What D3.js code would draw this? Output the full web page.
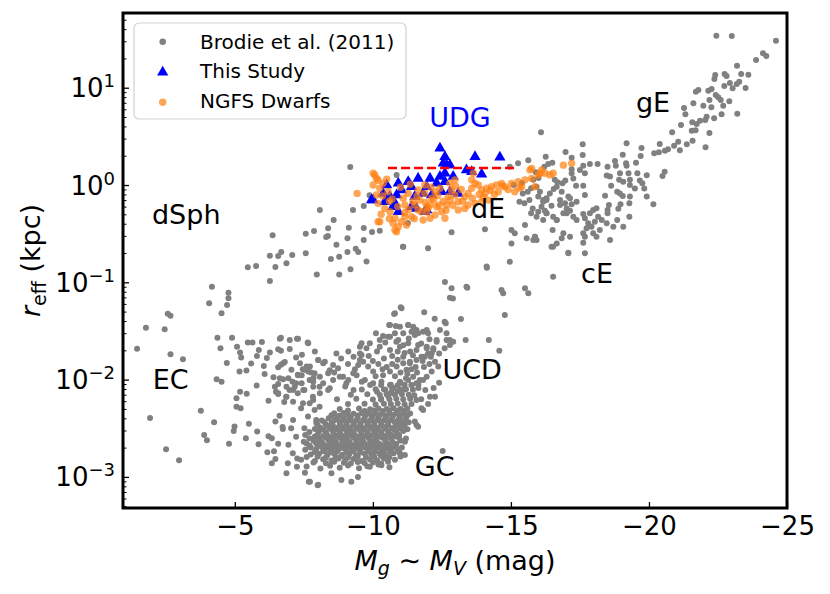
<!DOCTYPE html>
<html>
<head>
<meta charset="utf-8">
<script src="https://cdn.jsdelivr.net/npm/d3@7"></script>
<style>
  body { margin: 0; background: #fff; }
  svg { display: block; }
  text { font-family: "DejaVu Sans", sans-serif; }
</style>
</head>
<body>
<svg></svg>
<script>
// Brodie et al. (2011) compilation, [M_V, r_eff in kpc]
var brodieGiants = [
  [-22.44,34.3],[-23.0,34.0],[-24.6,30.4],[-24.13,22.6],[-24.25,21.2],[-23.88,19.3],[-23.19,16.8],[-22.74,13.8],
  [-22.81,13.2],[-22.40,13.5],[-22.37,12.3],[-23.34,13.8],[-23.60,13.6],[-22.93,11.2],[-23.03,9.86],[-23.18,10.9],
  [-23.27,11.5],[-23.50,9.93],[-22.73,10.4],[-22.27,9.7],[-22.15,9.3],[-21.79,9.47],[-21.70,9.1],[-22.42,8.4],
  [-22.51,7.97],[-22.60,7.48],[-22.19,7.48],[-22.26,6.29],[-22.69,6.53],[-22.91,7.25],[-21.97,6.53],[-21.61,6.92],
  [-21.27,6.18],[-21.32,5.33],[-22.63,5.33],[-23.20,5.4],[-22.36,4.85],[-22.09,5.04],[-22.04,4.66],[-21.85,4.58],
  [-21.73,4.24],[-21.57,4.41],[-21.16,4.14],[-21.55,3.61],[-21.69,3.65],[-20.84,3.48],[-22.19,3.42],[-21.58,2.85],
  [-21.37,2.62],[-21.06,2.79],[-20.91,2.53],[-22.05,2.44],[-21.12,2.27],[-20.69,2.33],[-20.58,2.25],[-20.39,2.64],
  [-20.19,2.12],[-20.36,2.17],[-19.73,2.4],[-19.70,1.99],[-19.19,2.69],[-19.05,2.05],[-20.57,1.37],[-20.49,1.24],
  [-19.53,1.69],[-19.17,1.67],[-19.19,1.58],[-18.77,1.77],[-18.80,1.58],[-18.50,1.54],[-19.26,1.32],[-19.58,1.32],
  [-18.95,1.32],[-19.07,1.08],[-18.47,1.25],[-18.59,1.22],[-19.92,1.26],[-19.67,1.11],[-19.76,1.04],[-19.31,1.13],
  [-19.31,1.0],[-19.49,0.92],[-19.83,0.92],[-19.92,0.76],[-20.16,0.634],[-18.63,0.98],[-18.92,1.13],[-18.85,0.853],
  [-18.95,0.82],[-18.41,0.776],[-19.31,0.76],[-18.97,0.634],[-18.89,0.57],[-19.29,0.648],[-19.29,0.472],[-18.55,0.623],
  [-18.50,0.553],[-18.85,0.437],[-19.07,0.373],[-18.14,1.64],[-17.86,1.64],[-17.60,2.03],[-17.60,2.62],[-17.20,1.91],
  [-16.98,2.18],[-16.09,3.48],[-16.26,1.95],[-16.50,1.69],[-16.35,1.64],[-16.21,1.54],[-17.20,1.45],[-17.62,1.58],
  [-17.36,0.98],[-17.62,0.98],[-16.97,1.11],[-16.87,1.04],[-16.69,1.07],[-16.55,0.91],[-16.41,0.82],[-16.29,0.73],
  [-16.17,0.673],[-16.47,0.612],[-17.14,0.73],[-17.38,0.673],[-17.20,0.634],[-16.78,0.623],[-17.68,0.79],[-16.29,0.512],
  [-16.23,0.545],[-16.53,0.472],[-16.66,0.437],[-17.02,0.512],[-17.14,0.545],[-17.26,0.472],[-17.38,0.437],[-17.62,0.504],
  [-17.68,0.455],[-17.86,0.512],[-17.98,0.553],[-18.10,0.576],[-18.16,0.472],[-18.29,0.437],[-18.04,0.42],[-17.80,0.404],
  [-17.92,0.373],[-17.74,0.359],[-17.62,0.319],[-17.98,0.319],[-17.62,0.255],[-17.68,0.294],[-17.08,0.201],[-18.47,0.404],
  [-18.71,0.373],[-18.50,0.512],[-19.05,0.771],[-18.59,0.272],[-18.10,0.294],[-18.22,0.345],[-16.51,0.345],[-16.90,0.319],
  [-17.14,0.294],[-16.84,0.283],[-15.81,0.272],[-15.87,0.294],[-16.47,0.232],[-15.99,0.532],[-15.93,0.472],[-16.17,0.437]
];

var brodieDwarfs = [
  [-9.18,1.53],[-8.08,0.553],[-9.28,0.553],[-9.67,0.608],[-9.88,0.784],[-8.58,0.437],[-7.57,0.316],[-7.87,0.337],
  [-8.38,0.359],[-8.31,0.292],[-8.37,0.30],[-9.13,0.364],[-9.67,0.361],[-9.97,0.329],[-10.25,0.339],[-9.08,0.283],
  [-9.67,0.272],[-8.68,0.243],[-6.37,0.304],[-7.57,0.199],[-7.08,0.191],[-6.68,0.205],[-6.57,0.186],[-6.27,0.188],
  [-6.87,0.157],[-6.47,0.144],[-5.77,0.147],[-5.47,0.143],[-6.27,0.103],[-7.97,0.12],[-8.48,0.174],[-8.78,0.183],
  [-9.08,0.205],[-9.38,0.221],[-9.47,0.205],[-9.77,0.164],[-9.19,0.136],[-8.78,0.12],[-4.17,0.090],[-4.07,0.061],
  [-4.52,0.048],[-4.77,0.078],[-4.77,0.0685],[-4.72,0.0585],[-2.57,0.0475],[-2.67,0.0454],[-1.78,0.0341],[-2.46,0.0329],
  [-10.86,1.27],[-11.09,0.232],[-11.27,0.407],
  [-15.73,0.925],[-15.61,0.853],[-15.43,0.82],[-15.31,0.673],[-15.49,0.648],[-15.67,0.70],[-15.79,0.575],[-15.73,0.512],
  [-15.81,1.13],[-15.93,0.96],[-16.05,0.853],[-15.99,0.76],[-16.17,0.70],[-16.11,0.598],[-16.29,0.70],[-16.29,0.512],
  [-16.59,1.13],[-16.66,0.96],[-16.84,0.853],[-16.78,0.70],[-16.96,0.648],[-17.08,0.76],[-17.02,0.575],[-16.90,0.512],
  [-16.66,0.437],[-17.26,1.17],[-17.20,1.32],[-17.50,1.43],[-17.68,1.32],[-15.02,0.345],[-15.14,0.319],[-15.57,0.283],
  [-15.87,0.294],[-15.93,0.272],[-15.51,0.388],[-16.53,0.232],[-16.66,0.25],[-17.08,0.199],[-17.68,0.199],[-14.96,0.163],
  [-14.12,0.145],[-12.61,0.101],[-12.85,0.0867],[-13.39,0.090],[-12.79,0.0695],[-14.66,0.0834],[-14.72,0.077],[-15.51,0.0867],
  [-15.63,0.077],[-14.06,0.351],[-12.85,0.327],[-12.0,0.224],[-11.10,0.232],[-14.13,0.141],[-15.02,0.25],[-16.53,0.114],
  [-15.26,1.67],[-15.63,1.8],[-14.96,1.54],[-15.9,1.35],[-16.0,1.18],[-15.4,1.05],[-15.1,1.0],[-12.90,0.068],[-13.42,0.0879]
];

var brodieUCD = [
  [-12.79,0.0255],[-12.91,0.0245],[-12.67,0.0299],[-12.43,0.0323],[-12.0,0.0299],[-11.82,0.031],[-11.58,0.0323],[-11.52,0.0287],
  [-11.64,0.0227],[-11.95,0.021],[-12.19,0.021],[-12.31,0.0255],[-12.13,0.0186],[-11.88,0.0172],[-12.25,0.0153],[-12.37,0.0136],
  [-12.13,0.0121],[-11.95,0.0107],[-11.70,0.0099],[-11.46,0.0107],[-11.22,0.0126],[-11.34,0.0147],[-11.10,0.0172],[-12.07,0.00667],
  [-12.25,0.00667],[-11.76,0.00507],[-11.52,0.0037],[-11.64,0.00328],[-11.22,0.00417],[-11.16,0.0023],[-11.16,0.00168],[-12.53,0.00185],
  [-10.77,0.0472],[-11.01,0.0553],[-10.59,0.0364],[-10.83,0.0355],[-11.28,0.0364],
  [-10.11,0.0299],[-10.37,0.028],[-10.62,0.0276],[-10.92,0.0255],[-11.10,0.0299],[-11.40,0.031],[-11.64,0.0299],[-11.95,0.0323],
  [-9.89,0.0236],[-10.25,0.0218],[-10.62,0.0201],[-10.98,0.0218],[-11.28,0.0236],[-11.58,0.0201],[-11.95,0.0218],[-12.31,0.0245],
  [-12.67,0.0255],[-12.79,0.0227],
  [-9.53,0.0218],[-9.59,0.0179],[-9.65,0.0153],[-9.83,0.0136],[-10.01,0.0121],[-10.37,0.0111],[-10.62,0.0121],[-10.86,0.0136],
  [-11.10,0.0147],[-11.34,0.0153],[-11.58,0.0159],[-11.76,0.0172],[-12.0,0.0186],[-12.19,0.0201],
  [-9.11,0.0194],[-8.56,0.0141],[-8.20,0.0147],[-8.02,0.0159],[-7.72,0.0136],[-7.54,0.0126],[-7.42,0.0111],
  [-8.80,0.0107],[-9.11,0.0099],[-9.41,0.0111],[-9.71,0.0099],[-10.01,0.00916],[-10.31,0.0095],[-10.62,0.0088],[-10.98,0.0095],
  [-11.28,0.0099],[-11.58,0.00916],[-11.82,0.0099],
  [-8.20,0.00916],[-8.44,0.00813],[-7.84,0.00845],[-7.48,0.0078],[-7.17,0.00845],
  [-11.58,0.00617],[-11.82,0.00488],[-11.58,0.00341],
  [-11.86,0.0492],[-12.24,0.0423],[-12.6,0.0394],[-12.64,0.038],[-13.19,0.042],[-13.36,0.0255],[-14.2,0.0255],[-14.58,0.0198],
  [-14.78,0.0461],
  [-9.59,0.0236],[-9.77,0.021],[-9.53,0.0186],[-10.25,0.0255],[-10.55,0.0276],[-10.80,0.0299],[-10.98,0.035],[-11.04,0.054],
  [-10.80,0.048],[-10.62,0.0364],[-11.28,0.0364],[-11.46,0.035],[-9.53,0.0159],[-9.47,0.0141],[-9.29,0.0116],
  [-10.4,0.0165],[-10.7,0.0175],[-10.9,0.016],[-11.0,0.0118],[-11.2,0.0103],[-10.5,0.0135],[-10.8,0.0108],[-10.2,0.0145],
  [-11.4,0.0128],[-11.6,0.0118],[-11.85,0.0135],[-12.05,0.0145],[-10.9,0.0195],[-11.15,0.0188],[-11.45,0.0178],[-11.75,0.0235],
  [-12.05,0.026],[-11.3,0.0265],[-10.45,0.024],[-10.15,0.0195],[-9.85,0.0175],[-10.0,0.0155],[-11.9,0.0078],[-11.65,0.0082],
  [-11.4,0.0088],[-11.15,0.0079],[-10.9,0.0076],[-10.65,0.0073],[-10.4,0.0079],[-10.15,0.0075],[-12.0,0.0056],[-11.75,0.0063],
  [-11.5,0.0069],[-12.2,0.0082],[-12.4,0.0093],
  [-10.3,0.0062],[-10.55,0.0068],[-10.75,0.0082],[-11.0,0.0093],[-11.25,0.0115],[-11.55,0.0135],[-11.8,0.0155],[-12.1,0.0172],
  [-12.4,0.0185],[-12.6,0.021],[-11.35,0.0195],[-11.1,0.0225],[-10.85,0.0245],[-10.7,0.0145],[-10.35,0.0128],[-10.1,0.0108],
  [-9.9,0.0088],[-9.6,0.0095],[-9.35,0.0128],[-9.1,0.0145],[-8.85,0.0165],[-9.3,0.0172],[-8.6,0.0118],[-9.0,0.0085],[-9.3,0.0078]
];

var brodieGCouter = [
  [-1.46,0.0208],[-2.67,0.0182],[-3.12,0.0162],[-1.93,0.00403],[-2.51,0.00192],[-2.98,0.00148],[-3.77,0.00479],[-4.25,0.00364],
  [-3.89,0.00270],[-3.99,0.00238],[-4.37,0.0270],[-4.90,0.0270],[-4.48,0.0210],[-4.71,0.0148],[-4.34,0.0101],[-4.52,0.0095],
  [-5.08,0.0218],[-5.19,0.0190],[-5.23,0.0169],[-5.47,0.0240],[-5.17,0.0121],[-5.42,0.0124],[-5.79,0.0087],[-5.19,0.0075],
  [-5.43,0.00716],[-5.06,0.00645],[-5.06,0.00525],[-5.21,0.00507],[-4.99,0.0033],[-4.96,0.00296],[-5.51,0.00352],[-5.40,0.0025],
  [-4.79,0.00219],[-5.81,0.00293],[-5.86,0.00217],[-5.64,0.0240],[-5.98,0.0243],[-5.87,0.0201],[-5.59,0.0146],[-5.80,0.0175],
  [-6.05,0.0138],[-6.08,0.0114],[-6.27,0.0190],[-6.16,0.0167],[-6.40,0.0106],[-6.67,0.0270],[-6.57,0.0205],[-6.67,0.0198],
  [-6.99,0.0206],[-7.25,0.0263],[-7.64,0.024],[-7.22,0.0169],[-7.43,0.0180],[-6.81,0.0152],[-6.67,0.0142],[-6.57,0.0134],
  [-6.94,0.0103],[-6.75,0.0101],[-6.57,0.009],[-7.09,0.0095],[-7.28,0.0112],[-7.56,0.0126],[-7.76,0.0118],[-7.85,0.0104],
  [-8.02,0.0159],[-7.22,0.0092],[-6.22,0.00607],[-6.49,0.0075],[-6.57,0.0071],[-6.79,0.0059],[-6.47,0.0037],[-6.73,0.00326],
  [-6.74,0.0031],[-6.94,0.00214],[-6.22,0.00261],[-6.34,0.00249],[-6.57,0.00219],[-6.18,0.00179],[-6.42,0.00184],[-6.47,0.00153],
  [-6.34,0.00138],[-6.92,0.00138],[-6.87,0.00109],[-7.25,0.00127],[-7.54,0.0011],[-7.68,0.00089],[-8.00,0.00082],[-7.10,0.00175],
  [-7.26,0.00155],[-6.62,0.00426],[-7.11,0.00385],
  [-7.40,0.00507],[-7.71,0.0057],[-7.89,0.00488],[-8.07,0.00527],[-7.65,0.00417],[-7.95,0.00385],[-7.52,0.00316],[-7.22,0.00259],
  [-7.04,0.00316],[-7.46,0.0128],[-7.89,0.0116],[-7.71,0.0099],[-8.07,0.00845],[-7.52,0.0078],[-7.28,0.00723],[-7.83,0.00667],
  [-6.98,0.0078],[-6.86,0.00667],
  [-8.26,0.0153],[-8.38,0.0116],[-8.08,0.0107],[-8.56,0.0099],[-8.92,0.0107],[-8.74,0.0131],[-9.04,0.00916],[-8.38,0.0078],
  [-8.08,0.00723],[-7.84,0.0095],[-7.60,0.0136],[-7.36,0.0147],[-7.66,0.0121],[-7.29,0.0111],[-7.05,0.0126],[-6.75,0.0147],
  [-6.63,0.0103],[-6.87,0.00845],[-7.42,0.00916],[-7.11,0.0078],[-7.84,0.00617],[-7.47,0.0057],[-7.11,0.00593],[-6.87,0.00667],
  [-6.57,0.00723],[-6.45,0.00845],
  [-6.63,0.0263],[-6.99,0.0255],[-7.29,0.0263],[-7.66,0.0236],[-7.90,0.0194],[-8.68,0.0186],[-8.44,0.0125],
  [-7.72,0.00089],[-8.02,0.00083],[-8.50,0.00109],[-8.86,0.00093],[-9.22,0.00089],[-9.46,0.001],[-9.89,0.00127],[-10.31,0.00132],
  [-10.98,0.00175]
];

var brodieGCcore = [
  [-7.6,0.00128],[-8.1,0.00122],[-8.45,0.0013],[-8.8,0.00124],[-9.1,0.00131],[-9.5,0.00123],[-9.8,0.00129],[-10.2,0.00134],[-10.6,0.00126],
  [-7.85,0.00141],[-8.3,0.00138],[-8.6,0.00143],[-8.95,0.0014],[-9.2,0.00137],[-9.45,0.00142],[-9.7,0.00139],[-10.0,0.00141],
  [-10.3,0.00137],[-10.55,0.00143],
  [-7.4,0.0015],[-7.9,0.00146],[-8.2,0.00152],[-8.5,0.00147],[-8.75,0.00155],[-9.0,0.00149],[-9.3,0.00153],[-9.6,0.00146],
  [-9.9,0.00151],[-10.15,0.00148],[-10.4,0.00155],[-10.8,0.0015],
  [-7.6,0.0016],[-8.0,0.00162],[-8.3,0.00158],[-8.65,0.00161],[-8.85,0.00163],[-9.1,0.00158],[-9.45,0.00162],[-9.75,0.00159],
  [-10.05,0.00161],[-10.3,0.00164],[-10.6,0.00159],[-11.0,0.00162],
  [-7.75,0.0017],[-8.05,0.00173],[-8.35,0.00168],[-8.6,0.00174],[-8.9,0.00169],[-9.15,0.00172],[-9.4,0.00167],[-9.7,0.00174],
  [-9.95,0.0017],[-10.25,0.00173],[-10.5,0.00168],[-10.75,0.00175],
  [-7.9,0.0018],[-8.2,0.00183],[-8.45,0.00178],[-8.7,0.00182],[-9.05,0.00179],[-9.3,0.00184],[-9.55,0.00178],[-9.85,0.00181],
  [-10.1,0.00183],[-10.4,0.00178],[-10.65,0.00182],[-10.95,0.0018],
  [-7.55,0.0019],[-7.95,0.00193],[-8.25,0.00188],[-8.5,0.00195],[-8.75,0.0019],[-9.0,0.00194],[-9.25,0.00188],[-9.5,0.00192],
  [-9.8,0.00196],[-10.05,0.00189],[-10.3,0.00193],[-10.6,0.00191],[-10.9,0.00194],
  [-7.75,0.002],[-8.15,0.00203],[-8.4,0.00198],[-8.65,0.00202],[-8.9,0.00199],[-9.15,0.00203],[-9.4,0.00198],[-9.65,0.00202],
  [-9.95,0.002],[-10.2,0.00203],[-10.45,0.00198],[-10.75,0.00202],[-11.05,0.002],
  [-7.7,0.0021],[-8.05,0.00214],[-8.3,0.00208],[-8.55,0.00215],[-8.8,0.0021],[-9.05,0.00213],[-9.3,0.00209],[-9.55,0.00216],
  [-9.8,0.00211],[-10.1,0.00214],[-10.35,0.00208],[-10.6,0.00213],
  [-7.6,0.0022],[-7.95,0.00222],[-8.2,0.00218],[-8.45,0.00223],[-8.7,0.00219],[-8.95,0.00222],[-9.2,0.00218],[-9.45,0.00223],
  [-9.7,0.0022],[-9.95,0.00223],[-10.25,0.00218],[-10.5,0.00222],[-10.85,0.00219],
  [-7.5,0.0023],[-7.85,0.00235],[-8.15,0.00229],[-8.4,0.00236],[-8.65,0.0023],[-8.9,0.00234],[-9.15,0.00228],[-9.4,0.00235],
  [-9.65,0.00231],[-9.9,0.00236],[-10.15,0.00229],[-10.45,0.00234],[-10.7,0.0023],[-11.0,0.00236],
  [-7.7,0.0025],[-8.05,0.00247],[-8.3,0.00252],[-8.55,0.00248],[-8.8,0.00253],[-9.05,0.00249],[-9.3,0.00252],[-9.6,0.00247],
  [-9.85,0.00251],[-10.1,0.00248],[-10.35,0.00253],[-10.65,0.00249],[-10.95,0.00252],[-11.2,0.00248],
  [-7.9,0.0026],[-8.2,0.00263],[-8.45,0.00257],[-8.7,0.00264],[-8.95,0.0026],[-9.2,0.00265],[-9.45,0.00258],[-9.7,0.00262],
  [-9.95,0.00266],[-10.2,0.00259],[-10.5,0.00263],[-10.8,0.0026],
  [-7.55,0.0027],[-8.0,0.00273],[-8.35,0.00268],[-8.6,0.00272],[-8.85,0.00269],[-9.1,0.00274],[-9.35,0.00268],[-9.6,0.00272],
  [-9.85,0.00269],[-10.1,0.00273],[-10.35,0.00268],[-10.65,0.00272],[-10.95,0.00269],
  [-7.7,0.0029],[-8.05,0.00294],[-8.3,0.00287],[-8.55,0.00295],[-8.8,0.0029],[-9.05,0.00293],[-9.3,0.00288],[-9.55,0.00296],
  [-9.8,0.00291],[-10.05,0.00294],[-10.3,0.00288],[-10.55,0.00293],[-10.85,0.0029],[-11.1,0.00296],
  [-7.9,0.0031],[-8.2,0.00307],[-8.45,0.00312],[-8.7,0.00308],[-8.95,0.00313],[-9.2,0.00307],[-9.45,0.00312],[-9.7,0.00308],
  [-9.95,0.00313],[-10.2,0.00307],[-10.45,0.00312],[-10.75,0.00308],[-11.0,0.00313],[-11.25,0.00308],
  [-8.1,0.0032],[-8.4,0.00325],[-8.65,0.00318],[-8.9,0.00326],[-9.15,0.00321],[-9.4,0.00324],[-9.65,0.00317],[-9.9,0.00325],
  [-10.15,0.0032],[-10.4,0.00326],[-10.7,0.00319],[-10.95,0.00324],
  [-8.0,0.0034],[-8.3,0.00343],[-8.55,0.00338],[-8.8,0.00342],[-9.05,0.00339],[-9.3,0.00343],[-9.55,0.00338],[-9.8,0.00342],
  [-10.05,0.00339],[-10.3,0.00343],[-10.55,0.00338],[-10.85,0.00342],[-11.15,0.00339],
  [-7.95,0.0036],[-8.25,0.00364],[-8.5,0.00357],[-8.8,0.00365],[-9.05,0.0036],[-9.3,0.00363],[-9.55,0.00356],[-9.8,0.00364],
  [-10.05,0.00361],[-10.3,0.00366],[-10.55,0.00358],[-10.8,0.00363],[-11.05,0.0036],[-11.3,0.00365],
  [-8.15,0.0038],[-8.6,0.00383],[-8.9,0.00378],[-9.15,0.00382],[-9.4,0.00379],[-9.65,0.00383],[-9.9,0.00378],[-10.15,0.00382],
  [-10.4,0.00379],[-10.65,0.00383],[-10.9,0.00378],[-11.15,0.00382],
  [-8.4,0.004],[-8.7,0.00405],[-8.95,0.00397],[-9.2,0.00406],[-9.45,0.004],[-9.7,0.00404],[-9.95,0.00398],[-10.2,0.00405],
  [-10.45,0.00401],[-10.7,0.00406],[-10.95,0.00399],[-11.2,0.00404],
  [-8.5,0.0043],[-8.8,0.00427],[-9.1,0.00432],[-9.45,0.00428],[-9.75,0.00433],[-10.0,0.00427],[-10.25,0.00432],[-10.5,0.00428],
  [-10.75,0.00433],[-11.0,0.00427],[-11.25,0.00432],
  [-8.6,0.0045],[-8.95,0.00455],[-9.3,0.00447],[-9.6,0.00454],[-9.85,0.0045],[-10.1,0.00456],[-10.35,0.00448],[-10.6,0.00453],
  [-10.85,0.0045],[-11.1,0.00455],[-11.35,0.00449],
  [-9.1,0.0048],[-9.7,0.00476],[-10.05,0.00482],[-10.35,0.00477],[-10.6,0.00483],[-10.9,0.00478],[-11.15,0.00482],
  [-8.8,0.005],[-9.5,0.00506],[-9.9,0.00497],[-10.2,0.00505],[-10.5,0.005],[-10.75,0.00507],[-11.0,0.00498],[-11.25,0.00504],
  [-9.1,0.0056],[-9.7,0.00566],[-10.1,0.00555],[-10.4,0.00564],[-10.65,0.0056],[-10.9,0.00567],[-11.15,0.00557],[-11.4,0.00563],
  [-8.7,0.0063],[-9.4,0.00636],[-10.0,0.00626],[-10.3,0.00635],[-10.6,0.0063],[-10.85,0.00637],[-11.1,0.00627],[-11.35,0.00634],
  [-9.2,0.007],[-9.8,0.00707],[-10.25,0.00695],[-10.5,0.00706],[-10.8,0.007],[-11.05,0.00708],[-11.3,0.00697],
  [-9.6,0.0079],[-10.1,0.00797],[-10.45,0.00785],[-10.7,0.00796],[-11.0,0.0079],[-11.2,0.00798],[-11.45,0.00787],
  [-10.3,0.0088],[-10.65,0.00887],[-10.9,0.00876],[-11.15,0.00886],[-11.4,0.0088],[-11.65,0.00888]
];

// this study (triangles) and NGFS dwarfs
var thisStudy = [
  [-12.43,2.38],[-12.61,1.95],[-13.70,1.95],[-14.60,1.93],[-12.67,1.61],[-12.61,1.32],[-13.39,1.43],[-13.58,1.37],
  [-13.94,1.29],[-12.91,1.22],[-12.43,1.22],[-12.07,1.17],[-11.64,1.17],[-11.28,1.08],[-10.92,1.04],[-10.50,1.0],
  [-11.95,0.96],[-11.40,0.96],[-11.04,0.889],[-10.86,0.79],[-10.37,0.82],[-10.62,0.76],[-9.95,0.70],[-10.43,0.673],
  [-11.52,0.76],[-11.82,0.82],[-12.13,0.79],[-12.49,0.853],[-12.79,0.853],[-13.09,0.82],[-10.80,0.648],[-11.40,0.598],
  [-11.88,0.532],[-10.92,0.532],[-12.61,1.08],[-12.31,1.04],[-12.55,1.67],[-12.79,1.61],[-11.95,0.553],[-11.58,0.575],
  [-10.01,0.70],[-10.73,0.598]
];

var ngfsDwarfs = [
  [-10.07,1.27],[-10.19,1.12],[-10.01,1.0],[-10.25,0.925],[-10.37,1.04],[-10.55,0.853],[-10.13,0.79],[-10.19,0.648],
  [-10.43,0.575],[-10.62,0.532],[-10.25,0.42],[-10.73,0.404],[-10.80,0.455],[-10.92,0.373],[-10.86,0.331],[-11.04,0.42],
  [-11.22,0.388],[-11.40,0.472],[-11.16,0.623],[-11.10,0.73],[-11.28,0.82],[-11.64,0.889],[-11.70,0.70],[-11.76,0.532],
  [-11.82,0.437],[-11.95,0.532],[-12.07,0.623],[-12.13,0.73],[-12.25,0.853],[-12.43,0.925],[-12.31,0.598],[-12.49,0.532],
  [-12.67,0.623],[-12.73,0.76],[-12.85,0.889],[-12.97,0.79],[-13.09,0.673],[-13.33,0.76],[-13.45,0.82],[-13.58,0.925],
  [-13.70,1.04],[-13.82,1.0],[-13.94,0.889],[-14.12,0.925],[-14.30,0.96],[-14.48,1.0],[-14.66,1.04],[-14.78,0.96],
  [-15.02,1.04],[-15.26,1.08],[-15.51,1.13],[-15.75,1.17],[-15.99,1.27],[-16.11,1.43],[-15.75,1.48],[-16.23,1.32],
  [-16.41,1.27],[-15.87,0.96],[-15.39,0.96],[-15.14,0.853],[-14.54,0.853],[-14.06,0.82],[-13.58,1.13],[-13.64,1.32],
  [-12.97,1.13],[-12.79,1.04],[-11.88,0.82],[-11.52,0.623],[-11.64,0.553],[-12.25,0.492],[-12.07,0.455],[-12.61,0.455],
  [-11.88,1.0],[-9.43,0.82],[-10.01,1.32],[-10.13,1.17],[-10.80,0.345],[-10.19,0.42],[-11.16,0.472],[-15.69,1.43],
  [-16.05,1.32],[-16.53,1.32],[-16.90,1.6],[-17.20,1.67],[-13.45,0.623],[-13.70,0.648],[-13.94,0.673],[-14.18,0.70],
  [-13.33,0.575],[-13.09,0.553],[-11.45,0.68],[-11.9,0.66],[-12.2,0.7],[-12.55,0.68],[-12.0,0.58],[-11.6,0.77],
  [-12.35,0.78],[-11.3,0.56],[-10.6,0.68],[-10.9,0.6],[-12.9,0.62],[-13.2,0.9],[-11.0,0.95],[-10.5,1.15],
  [-14.0,0.75],[-14.4,0.8],[-14.9,0.9],[-15.3,0.93],[-13.0,0.97],[-12.65,0.55],
  [-10.35,0.77],[-10.7,0.72],[-11.15,0.52],[-11.5,0.45],[-11.95,0.6],[-12.4,0.62],[-12.1,0.95],[-11.35,1.02],
  [-10.3,0.5],[-10.6,0.45],[-12.8,0.7],[-13.25,0.68],[-13.6,0.73],[-13.85,0.8],[-14.25,0.88],[-14.7,0.98]
];

// UDG size limit (dashed line)
var udgLimitMag = [-10.55, -15.26];
var udgLimitReff = 1.5;

// region names and where they sit (data coords, text start / baseline)
var regionNames = ["dSph", "EC", "UDG", "gE", "dE", "cE", "UCD", "GC"];
var regionMag = [-2.0, -2.03, -12.04, -19.53, -13.55, -17.54, -12.52, -11.52];
var regionReff = [0.398, 0.00794, 3.97, 5.66, 0.455, 0.0975, 0.01007, 0.00103];

var xTicks = [-5, -10, -15, -20, -25];
var yExponents = [-3, -2, -1, 0, 1];

var legendLabels = ["Brodie et al. (2011)", "This Study", "NGFS Dwarfs"];

window.onload = function() {
  var svg = d3.select("svg")
    .attr("width", 830)
    .attr("height", 594);

  var x = d3.scaleLinear().domain([-0.95, -25.0]).range([123, 787]);
  var y = d3.scaleLog().domain([4.79e-4, 58.6]).range([508, 13]);

  var grey = "#808080", orange = "#ff7f0e", blue = "#0000ff";

  // bottom axis, ticks pointing in
  var xAxis = svg.append("g")
    .attr("transform", "translate(0,508)")
    .call(d3.axisBottom(x).tickValues(xTicks).tickSize(-6).tickPadding(9)
      .tickFormat(function(d) { return "\u2212" + Math.abs(d); }));
  xAxis.select(".domain").remove();
  xAxis.selectAll("line").attr("stroke", "#000").attr("stroke-width", 1.3);
  xAxis.selectAll("text")
    .attr("font-size", 26)
    .attr("font-family", "DejaVu Sans")
    .attr("fill", "#000");

  // left axis: major + minor ticks
  var yMajor = yExponents.map(function(e) { return Math.pow(10, e); });
  var yMinor = [];
  for (var e = -4; e <= 1; e++) {
    for (var m = 2; m <= 9; m++) {
      var v = m * Math.pow(10, e);
      if (v > y.domain()[0] && v < y.domain()[1]) yMinor.push(v);
    }
  }
  var yAxis = svg.append("g")
    .attr("transform", "translate(123,0)")
    .call(d3.axisLeft(y).tickValues(yMajor).tickSize(-6).tickFormat(""));
  yAxis.select(".domain").remove();
  yAxis.selectAll("line").attr("stroke", "#000").attr("stroke-width", 1.3);

  var yMinorAxis = svg.append("g")
    .attr("transform", "translate(123,0)")
    .call(d3.axisLeft(y).tickValues(yMinor).tickSize(-3.5).tickFormat(""));
  yMinorAxis.select(".domain").remove();
  yMinorAxis.selectAll("line").attr("stroke", "#000").attr("stroke-width", 1);

  // y tick labels as 10^n
  var yLab = svg.append("g").selectAll("text")
    .data(yExponents).enter()
    .append("text")
    .attr("x", 115)
    .attr("y", function(d) { return y(Math.pow(10, d)) + 9.5; })
    .attr("text-anchor", "end")
    .attr("font-size", 26)
    .attr("fill", "#000");
  yLab.append("tspan").text("10");
  yLab.append("tspan")
    .attr("dy", -10)
    .attr("font-size", 18)
    .text(function(d) { return d < 0 ? "\u2212" + Math.abs(d) : String(d); });

  // Brodie et al. points
  var brodie = brodieGCcore.concat(brodieGCouter, brodieUCD, brodieDwarfs, brodieGiants);
  svg.append("g").selectAll("circle")
    .data(brodie).enter()
    .append("circle")
    .attr("cx", function(d) { return x(d[0]); })
    .attr("cy", function(d) { return y(d[1]); })
    .attr("r", 3)
    .attr("fill", grey);

  // this study
  var tri = d3.symbol().type(d3.symbolTriangle).size(55);
  svg.append("g").selectAll("path")
    .data(thisStudy).enter()
    .append("path")
    .attr("d", tri)
    .attr("transform", function(d) { return "translate(" + x(d[0]) + "," + y(d[1]) + ")"; })
    .attr("fill", blue);

  // NGFS dwarfs, semi transparent
  svg.append("g").selectAll("circle")
    .data(ngfsDwarfs).enter()
    .append("circle")
    .attr("cx", function(d) { return x(d[0]); })
    .attr("cy", function(d) { return y(d[1]); })
    .attr("r", 3.7)
    .attr("fill", orange)
    .attr("fill-opacity", 0.7);

  // UDG limit
  svg.append("line")
    .attr("x1", x(udgLimitMag[0]))
    .attr("x2", x(udgLimitMag[1]))
    .attr("y1", y(udgLimitReff))
    .attr("y2", y(udgLimitReff))
    .attr("stroke", "red")
    .attr("stroke-width", 2.5)
    .attr("stroke-dasharray", "9,4");

  // region labels
  svg.append("g").selectAll("text")
    .data(regionNames).enter()
    .append("text")
    .attr("x", function(d, i) { return x(regionMag[i]); })
    .attr("y", function(d, i) { return y(regionReff[i]); })
    .attr("font-size", 27)
    .attr("fill", function(d) { return d === "UDG" ? blue : "#000"; })
    .text(function(d) { return d; });

  // legend
  var lg = svg.append("g");
  lg.append("rect")
    .attr("x", 134).attr("y", 23)
    .attr("width", 272).attr("height", 96)
    .attr("rx", 5)
    .attr("fill", "#fff").attr("fill-opacity", 0.8)
    .attr("stroke", "#d3d3d3").attr("stroke-width", 1.2);
  lg.append("circle").attr("cx", 162.7).attr("cy", 41.7).attr("r", 3.3).attr("fill", grey);
  lg.append("path").attr("d", tri)
    .attr("transform", "translate(162.7,72.3)")
    .attr("fill", blue);
  lg.append("circle").attr("cx", 162.7).attr("cy", 102.3).attr("r", 3.7)
    .attr("fill", orange).attr("fill-opacity", 0.7);
  lg.selectAll("text.lab")
    .data(legendLabels).enter()
    .append("text")
    .attr("x", 200)
    .attr("y", function(d, i) { return 48.5 + i * 29.5; })
    .attr("font-size", 20)
    .attr("fill", "#000")
    .text(function(d) { return d; });

  // axis titles
  var xl = svg.append("text")
    .attr("x", 455).attr("y", 570)
    .attr("text-anchor", "middle")
    .attr("font-size", 27)
    .attr("fill", "#000");
  xl.append("tspan").attr("font-style", "italic").text("M");
  xl.append("tspan").attr("font-style", "italic").attr("font-size", 19).attr("dy", 5).text("g");
  xl.append("tspan").attr("dy", -5).text(" \u223C ");
  xl.append("tspan").attr("font-style", "italic").text("M");
  xl.append("tspan").attr("font-style", "italic").attr("font-size", 19).attr("dy", 5).text("V");
  xl.append("tspan").attr("dy", -5).text(" (mag)");

  var yl = svg.append("text")
    .attr("transform", "translate(40,260.5) rotate(-90)")
    .attr("text-anchor", "middle")
    .attr("font-size", 27)
    .attr("fill", "#000");
  yl.append("tspan").attr("font-style", "italic").text("r");
  yl.append("tspan").attr("font-size", 19).attr("dy", 6).text("eff");
  yl.append("tspan").attr("dy", -6).text(" (kpc)");

  // frame
  svg.append("rect")
    .attr("x", 123).attr("y", 13)
    .attr("width", 664).attr("height", 495)
    .attr("fill", "none")
    .attr("stroke", "#000")
    .attr("stroke-width", 3);
};
</script>
</body>
</html>
